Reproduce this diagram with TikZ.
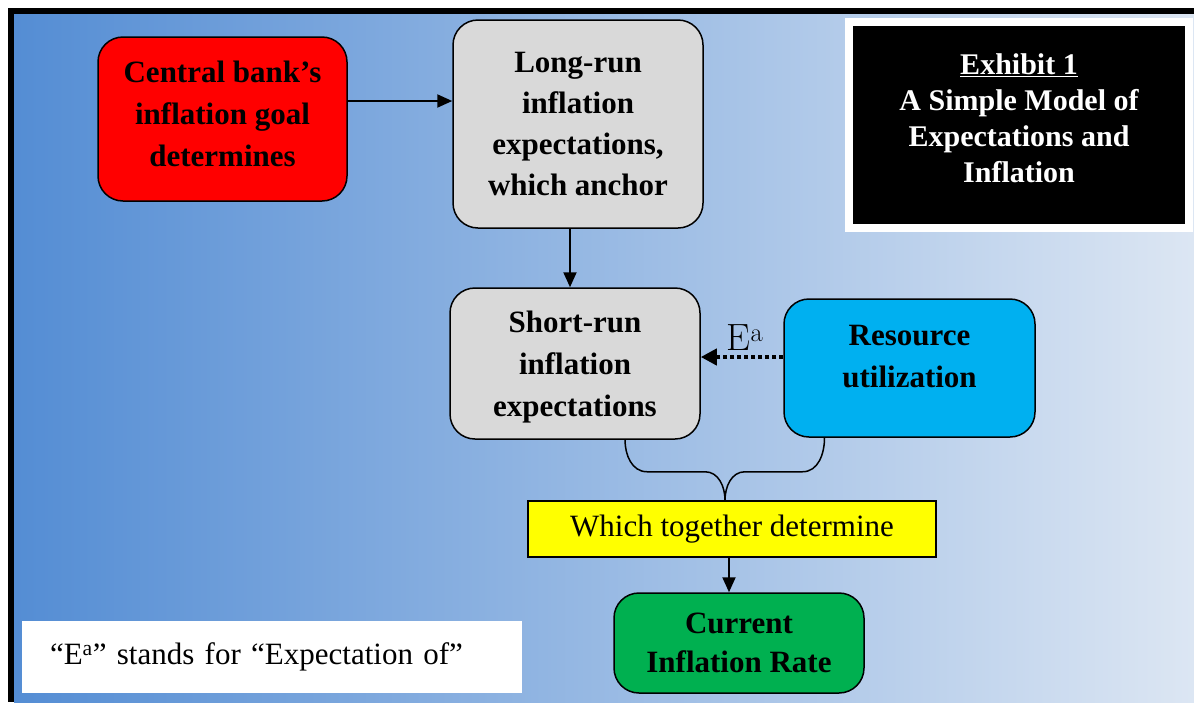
\documentclass[tikz,border=0pt]{standalone}
\usepackage[no-math]{fontspec}
\setmainfont{Liberation Serif}
\usetikzlibrary{arrows.meta}

\definecolor{bgleft}{RGB}{84,141,212}
\definecolor{bgright}{RGB}{220,230,243}
\definecolor{goalred}{RGB}{255,0,0}
\definecolor{expgray}{RGB}{217,217,217}
\definecolor{resblue}{RGB}{0,176,240}
\definecolor{noteyellow}{RGB}{255,255,0}
\definecolor{rategreen}{RGB}{0,176,80}

\tikzset{
  roundbox/.style={draw=black, line width=1.5pt, rounded corners=25pt, align=center, inner sep=0pt, font=\bfseries\fontsize{31}{42}\selectfont},
  flow/.style={line width=2pt, -{Triangle[length=15pt,width=13pt]}},
  dotflow/.style={line width=4pt, dash pattern=on 4pt off 3pt, -{Triangle[length=16pt,width=16pt]}},
  bracewire/.style={line width=1.5pt},
}

\begin{document}
\begin{tikzpicture}[x=1pt,y=-1pt]
        % Background and frame:
        \useasboundingbox (0,0) rectangle (1194,702);
        \fill[white] (0,0) rectangle (1194,702);
        \shade[left color=bgleft, right color=bgright] (14,14) rectangle (1194,702);
        \fill[black] (8,8) rectangle (1194,14);
        \fill[black] (8,8) rectangle (14,702);
        % Boxes:
        \draw node[roundbox, fill=goalred, minimum width=249pt, minimum height=164pt, text depth=10pt] (N1) at (222.5, 119) {Central bank’s\\inflation goal\\determines};
        \draw node[roundbox, fill=expgray, minimum width=250pt, minimum height=208pt, font=\bfseries\fontsize{31}{41}\selectfont] (N2) at (578, 124) {Long-run\\inflation\\expectations,\\which anchor};
        \draw node[roundbox, fill=expgray, minimum width=250pt, minimum height=151pt, text depth=0pt] (N3) at (575, 363.5) {Short-run\\inflation\\expectations};
        \draw node[roundbox, fill=resblue, minimum width=251pt, minimum height=138pt, text depth=24pt] (N4) at (909.5, 368) {Resource\\utilization};
        \draw node[draw=black, line width=1.5pt, fill=noteyellow, minimum width=408pt, minimum height=56pt, font=\fontsize{31}{36}\selectfont] (N5) at (732, 529) {Which together determine};
        \draw node[roundbox, fill=rategreen, minimum width=250pt, minimum height=100pt, font=\bfseries\fontsize{31}{39}\selectfont] (N6) at (739, 643) {Current\\Inflation Rate};
        \draw node[draw=white, line width=8pt, fill=black, text=white, align=center, minimum width=340pt, minimum height=206pt, text depth=14pt, font=\bfseries\fontsize{30}{36}\selectfont] (N7) at (1019, 125) {\underline{Exhibit 1}\\A Simple Model of\\Expectations and\\Inflation};
        \draw node[fill=white, minimum height=72pt, inner xsep=28pt, text width=444pt, align=left, font=\fontsize{31}{36}\selectfont] (N8) at (272, 657) {“E\textsuperscript{a}” stands for “Expectation of”};
        % Connectors:
        \draw[flow] ([yshift=18pt]N1.east) -- ([yshift=18pt]N1.east -| N2.west);
        \draw[flow] ([xshift=-8pt]N2.south) -- ([xshift=-8pt]N2.south |- N3.north);
        \draw[dotflow] ([yshift=11pt]N4.west) -- ([yshift=11pt]N4.west -| N3.east) node[midway, above=1pt, xshift=3pt, font=\fontfamily{lmr}\fontsize{38}{40}\selectfont] (N9) {E\textsuperscript{a}};
        \draw[bracewire] ([xshift=50pt]N3.south) to[out=-90,in=180] ++(22,32) -- ++(58,0) to[out=0,in=90] ([xshift=-7pt]N5.north);
        \draw[bracewire] ([xshift=-85pt]N4.south) to[out=-90,in=0] ++(-22,34) -- ++(-57.5,0) to[out=180,in=90] ([xshift=-7pt]N5.north);
        \draw[flow] ([xshift=-3pt]N5.south) -- ([xshift=-3pt]N5.south |- N6.north);
\end{tikzpicture}
\end{document}
